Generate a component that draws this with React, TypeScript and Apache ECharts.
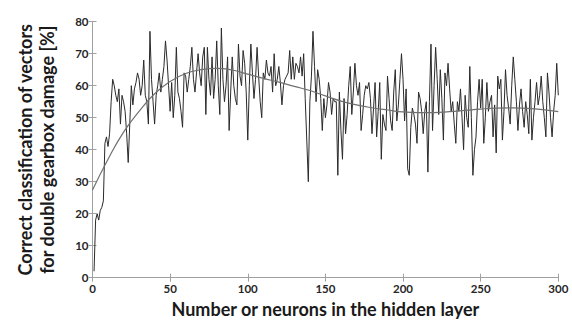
import React, { useEffect, useRef } from "react";
import * as echarts from "echarts";

const accuracy: number[] = [
  2, 18, 20, 18, 21, 22, 24, 42, 44, 41,
  45, 55, 62, 60, 57, 55, 59, 48, 57, 55,
  52, 45, 36, 48, 60, 54, 59, 61, 64, 62,
  57, 60, 68, 57, 55, 48, 77, 62, 55, 48,
  57, 60, 64, 58, 62, 66, 74, 68, 60, 52,
  61, 50, 57, 72, 58, 56, 52, 47, 64, 63,
  58, 62, 66, 72, 62, 58, 64, 70, 64, 60,
  69, 72, 51, 72, 62, 57, 69, 56, 62, 74,
  60, 51, 78, 62, 55, 60, 69, 46, 58, 69,
  60, 56, 54, 73, 63, 60, 71, 67, 58, 43,
  60, 73, 64, 56, 62, 72, 63, 55, 50, 64,
  62, 68, 64, 63, 66, 58, 70, 60, 62, 66,
  61, 54, 60, 62, 63, 64, 71, 62, 69, 62,
  67, 66, 64, 69, 63, 70, 56, 43, 30, 55,
  63, 77, 66, 55, 65, 62, 56, 46, 56, 50,
  54, 61, 58, 51, 56, 55, 55, 32, 58, 46,
  37, 56, 45, 51, 60, 66, 51, 58, 67, 60,
  57, 61, 46, 51, 57, 60, 59, 61, 56, 45,
  53, 61, 44, 52, 61, 37, 51, 48, 46, 63,
  56, 49, 46, 58, 65, 49, 54, 62, 70, 62,
  49, 59, 34, 32, 47, 53, 51, 48, 42, 58,
  56, 52, 45, 52, 55, 33, 55, 73, 46, 60,
  72, 62, 51, 65, 56, 43, 64, 60, 67, 59,
  52, 55, 48, 42, 55, 52, 59, 50, 40, 57,
  50, 47, 66, 50, 32, 40, 44, 55, 62, 53,
  62, 42, 50, 61, 52, 55, 57, 44, 54, 39,
  63, 59, 62, 43, 52, 65, 57, 53, 48, 60,
  69, 62, 55, 46, 54, 59, 52, 47, 55, 51,
  45, 62, 43, 50, 55, 61, 54, 57, 63, 55,
  50, 44, 64, 58, 50, 44, 52, 57, 67, 57,
];

const trendX: number[] = [0, 10, 20, 30, 40, 50, 60, 70, 80, 90, 100, 110, 120, 130, 140, 150, 160, 170, 180, 190, 200, 210, 220, 230, 240, 250, 260, 270, 280, 290, 300];
const trendY: number[] = [27.4, 37, 45.5, 52, 57.5, 61.3, 63.8, 65, 65.4, 64.9, 63.6, 62.3, 61.1, 59.8, 58.5, 56.8, 55.2, 54, 53.1, 52.4, 51.8, 51.6, 51.6, 51.9, 52.3, 52.7, 53, 53.1, 52.9, 52.5, 51.9];

const xTitle = "Number or neurons in the hidden layer";
const yTitle = "Correct classification of vectors\nfor double gearbox damage [%]";

export default function App() {
  const ref = useRef<HTMLDivElement>(null);
  useEffect(() => {
    if (!ref.current) return;
    const chart = echarts.init(ref.current, null, { renderer: "svg" });
    const axisColor = "#a0a0a0";
    const labelStyle = { color: "#262626", fontWeight: "bold" as const, fontSize: 11.5, fontFamily: "Lato" };
    chart.setOption({
      animation: false,
      backgroundColor: "#fff",
      grid: { left: 92.5, right: 13.7, top: 21.7, bottom: 45.3, containLabel: false },
      xAxis: [
        {
          type: "value", min: 0, max: 300, interval: 50,
          axisLine: { show: true, lineStyle: { color: axisColor, width: 1 } },
          axisTick: { show: true, inside: true, length: 4, lineStyle: { color: axisColor } },
          axisLabel: { ...labelStyle, margin: 5 },
          splitLine: { show: false },
          name: xTitle, nameLocation: "middle", nameGap: 22,
          nameTextStyle: { fontSize: 18, fontWeight: "bold", color: "#1a1a1a", fontFamily: "Lato" },
        },
        {
          type: "value", min: 0, max: 300, interval: 50, position: "top",
          axisLine: { show: true, lineStyle: { color: axisColor, width: 1 } },
          axisTick: { show: true, inside: true, length: 4, lineStyle: { color: axisColor } },
          axisLabel: { show: false }, splitLine: { show: false },
        },
      ],
      yAxis: [
        {
          type: "value", min: 0, max: 80, interval: 10,
          axisLine: { show: true, lineStyle: { color: axisColor, width: 1 } },
          axisTick: { show: true, inside: true, length: 4, lineStyle: { color: axisColor } },
          axisLabel: { ...labelStyle, margin: 4 },
          splitLine: { show: false },
          name: yTitle, nameLocation: "middle", nameGap: 35, nameRotate: 90,
          nameTextStyle: { fontSize: 18, fontWeight: "bold", color: "#1a1a1a", fontFamily: "Lato", lineHeight: 22, align: "center" },
        },
        {
          type: "value", min: 0, max: 80, interval: 10, position: "right",
          axisLine: { show: true, lineStyle: { color: axisColor, width: 1 } },
          axisTick: { show: true, inside: true, length: 4, lineStyle: { color: axisColor } },
          axisLabel: { show: false }, splitLine: { show: false },
        },
      ],
      series: [
        {
          type: "line", xAxisIndex: 0, yAxisIndex: 0,
          data: accuracy.map((v, i) => [i + 1, v]),
          showSymbol: false, symbol: "none",
          lineStyle: { color: "#2a2a2a", width: 1 },
        },
        {
          type: "line", xAxisIndex: 0, yAxisIndex: 0,
          data: trendX.map((x, i) => [x, trendY[i]]),
          showSymbol: false, symbol: "none", smooth: true,
          lineStyle: { color: "#707070", width: 1.2 },
          z: 3,
        },
      ],
    });
    return () => chart.dispose();
  }, []);
  return <div ref={ref} style={{ position: "fixed", left: 0, top: 0, width: 572, height: 323 }} />;
}
